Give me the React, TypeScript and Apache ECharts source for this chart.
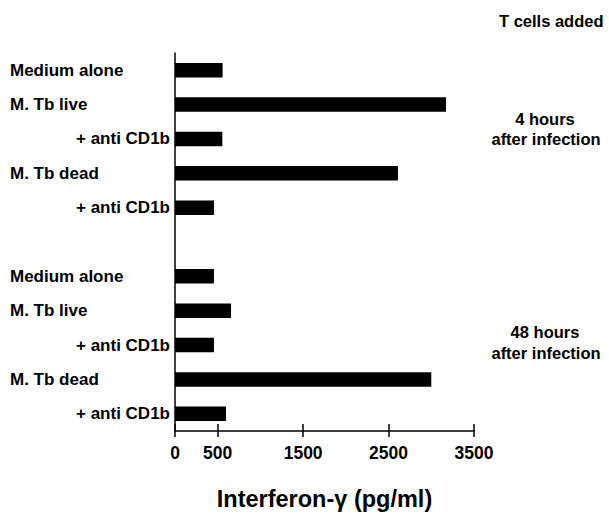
import React, { useEffect, useRef } from "react";
import * as echarts from "echarts";

const categories = [
  "Medium alone",
  "M. Tb live",
  "+ anti CD1b",
  "M. Tb dead",
  "+ anti CD1b",
  "",
  "Medium alone",
  "M. Tb live",
  "+ anti CD1b",
  "M. Tb dead",
  "+ anti CD1b",
];
const ifnValues = [557, 3172, 554, 2610, 456, null, 456, 656, 456, 3000, 597];
const tickValues = [0, 500, 1500, 2500, 3500];
const axisTitle = "Interferon-γ (pg/ml)";
const headerText = "T cells added";
const group1Text = ["4 hours", "after infection"];
const group2Text = ["48 hours", "after infection"];

const FONT = "'Liberation Sans', Arial, Helvetica, sans-serif";

export default function App() {
  const ref = useRef<HTMLDivElement>(null);
  useEffect(() => {
    document.body.style.margin = "0";
    if (!ref.current) return;
    const chart = echarts.init(ref.current, undefined, { renderer: "svg" });
    const txt = (s: string, x: number, y: number, align = "center") => ({
      type: "text",
      x,
      y,
      style: {
        text: s,
        font: `bold 16.5px ${FONT}`,
        fill: "#000",
        align,
        verticalAlign: "middle",
      },
    });
    chart.setOption({
      animation: false,
      backgroundColor: "#fff",
      grid: { left: 175, right: 135, top: 53, bottom: 85, containLabel: false },
      xAxis: [
        {
          type: "value",
          min: 0,
          max: 3500,
          position: "bottom",
          axisLine: { show: true, lineStyle: { color: "#000", width: 1.5 } },
          axisTick: {
            show: true,
            customValues: tickValues,
            length: 6,
            lineStyle: { color: "#000", width: 1.5 },
          },
          axisLabel: {
            customValues: tickValues,
            formatter: (v: number) => String(v),
            margin: 13,
            color: "#000",
            fontFamily: FONT,
            fontWeight: "bold",
            fontSize: 17.5,
          },
          splitLine: { show: false },
          name: axisTitle,
          nameLocation: "middle",
          nameGap: 56,
          nameTextStyle: {
            color: "#000",
            fontFamily: FONT,
            fontWeight: "bold",
            fontSize: 23.5,
          },
        },
        {
          type: "value",
          min: 0,
          max: 3500,
          position: "bottom",
          axisLine: { show: false },
          axisTick: {
            show: true,
            inside: true,
            customValues: tickValues,
            length: 7,
            lineStyle: { color: "#000", width: 1.5 },
          },
          axisLabel: { show: false },
          splitLine: { show: false },
        },
      ],
      yAxis: {
        type: "category",
        data: categories,
        inverse: true,
        axisLine: { show: true, lineStyle: { color: "#000", width: 1.5 } },
        axisTick: { show: false },
        axisLabel: {
          margin: 165,
          align: "left",
          color: "#000",
          fontFamily: FONT,
          fontWeight: "bold",
          fontSize: 17,
          interval: 0,
          formatter: (v: string) =>
            v === "" ? "" : v.startsWith("+") ? `{r|${v}}` : `{l|${v}}`,
          rich: {
            l: { width: 160, align: "left", fontFamily: FONT, fontWeight: "bold", fontSize: 17, color: "#000" },
            r: { width: 160, align: "right", fontFamily: FONT, fontWeight: "bold", fontSize: 17, color: "#000" },
          },
        },
      },
      series: [
        {
          type: "bar",
          xAxisIndex: 0,
          data: ifnValues,
          barWidth: 14.5,
          itemStyle: { color: "#000" },
        },
      ],
      graphic: [
        txt(headerText, 499, 21, "left"),
        txt(group1Text[0], 545, 119),
        txt(group1Text[1], 546, 139),
        txt(group2Text[0], 545, 332),
        txt(group2Text[1], 546, 353),
      ],
    });
    return () => chart.dispose();
  }, []);
  return <div ref={ref} style={{ width: 609, height: 516 }} />;
}
